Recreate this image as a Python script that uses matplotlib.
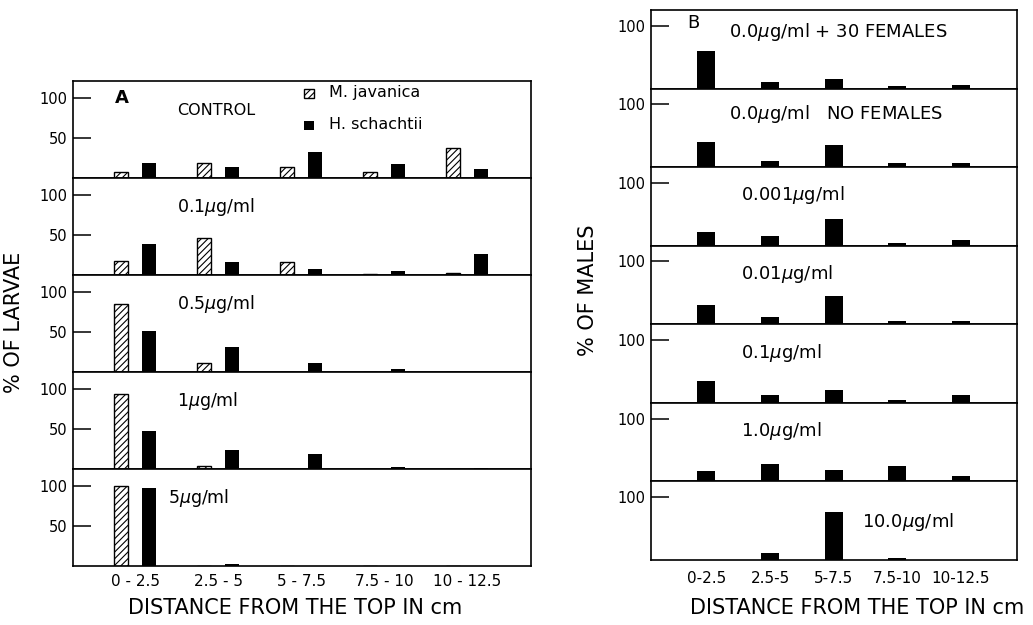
import matplotlib
matplotlib.use('Agg')
import matplotlib.pyplot as plt
import numpy as np

plt.rcParams['font.family'] = ['DejaVu Sans']
plt.rcParams['hatch.linewidth'] = 0.8

# 数据 (% of larvae / males per 2.5 cm section)
groups_a = ['0 - 2.5', '2.5 - 5', '5 - 7.5', '7.5 - 10', '10 - 12.5']
groups_b = ['0-2.5', '2.5-5', '5-7.5', '7.5-10', '10-12.5']

labels_a = ['CONTROL', r'0.1$\mu$g/ml', r'0.5$\mu$g/ml', r'1$\mu$g/ml', r'5$\mu$g/ml']
javanica = [[7, 19, 14, 7, 38],
            [17, 46, 16, 1, 3],
            [85, 11, 0, 0, 0],
            [94, 4, 0, 0, 0],
            [100, 0, 0, 0, 0]]
schachtii = [[19, 14, 33, 17, 11],
             [39, 16, 8, 5, 26],
             [51, 31, 11, 4, 0],
             [48, 24, 19, 3, 1],
             [98, 3, 0, 0, 0]]

labels_b = [r'0.0$\mu$g/ml + 30 FEMALES', r'0.0$\mu$g/ml   NO FEMALES', r'0.001$\mu$g/ml',
            r'0.01$\mu$g/ml', r'0.1$\mu$g/ml', r'1.0$\mu$g/ml', r'10.0$\mu$g/ml']
males = [[60, 11, 15, 4, 5],
         [40, 9, 36, 6, 7],
         [22, 16, 42, 5, 9],
         [31, 12, 45, 6, 6],
         [35, 12, 21, 5, 13],
         [16, 27, 18, 24, 9],
         [0, 11, 77, 3, 0]]

W, H = 1033, 625
fig = plt.figure(figsize=(W / 100, H / 100), dpi=100)


def px_axes(x0, y0, x1, y1):
    # 像素坐标 -> figure 坐标
    return fig.add_axes([x0 / W, 1 - y1 / H, (x1 - x0) / W, (y1 - y0) / H])


def style(ax, ylim, yticks):
    ax.set_ylim(0, ylim)
    ax.set_yticks(yticks)
    ax.set_yticklabels([str(t) for t in yticks], fontsize=10.5)
    ax.tick_params(axis='y', direction='in', length=13, width=1.1, pad=4)
    ax.tick_params(axis='x', length=0)
    for s in ax.spines.values():
        s.set_linewidth(1.2)


# Panel A
xa = np.arange(len(groups_a))
rows_a = [81, 178, 275, 372, 469, 566]
for i in range(5):
    ax = px_axes(73, rows_a[i], 531, rows_a[i + 1])
    ax.bar(xa - 0.17, javanica[i], width=0.17, color='white', edgecolor='black',
           hatch='/////', linewidth=1.0)
    ax.bar(xa + 0.17, schachtii[i], width=0.17, color='black')
    ax.set_xlim(-0.75, 4.77)
    style(ax, 122, [50, 100])
    if i < 4:
        ax.set_xticks([])
    else:
        ax.set_xticks(xa)
        ax.set_xticklabels(groups_a, fontsize=11)
        ax.tick_params(axis='x', pad=6)
    if i == 0:
        ax.text(-0.25, 101, 'A', fontsize=13, fontweight='bold', va='center')
        ax.text(0.5, 85, 'CONTROL', fontsize=11.5, va='center')
        ax.bar([2.1], [11], bottom=[101], width=0.12, color='white', edgecolor='black',
               hatch='/////', linewidth=1.0)
        ax.bar([2.1], [11], bottom=[61], width=0.12, color='black')
        ax.text(2.33, 107, 'M. javanica', fontsize=11.5, va='center')
        ax.text(2.33, 67, 'H. schachtii', fontsize=11.5, va='center')
    else:
        ax.text(0.5 if i < 4 else 0.39, 85, labels_a[i], fontsize=12.5, va='center')

fig.text(295 / W, 1 - 608 / H, 'DISTANCE FROM THE TOP IN cm', fontsize=15,
         ha='center', va='center')
fig.text(14 / W, 1 - 322 / H, '% OF LARVAE', rotation=90, fontsize=15,
         ha='center', va='center')

# Panel B
xb = np.arange(len(groups_b))
rows_b = np.linspace(10, 560, 8)
for i in range(7):
    ax = px_axes(651, rows_b[i], 1017, rows_b[i + 1])
    ax.bar(xb, males[i], width=0.28, color='black')
    ax.set_xlim(-0.87, 4.88)
    style(ax, 125, [100])
    if i < 6:
        ax.set_xticks([])
    else:
        ax.set_xticks(xb)
        ax.set_xticklabels(groups_b, fontsize=11)
        ax.tick_params(axis='x', pad=8)
    if i == 0:
        ax.text(-0.3, 105, 'B', fontsize=13, va='center')
        ax.text(0.35, 90, labels_b[i], fontsize=13, va='center')
    elif i == 1:
        ax.text(0.35, 85, labels_b[i], fontsize=13, va='center')
    elif i < 6:
        ax.text(0.55, 80, labels_b[i], fontsize=13, va='center')
    else:
        ax.text(2.45, 60, labels_b[i], fontsize=13, va='center')

fig.text(857 / W, 1 - 608 / H, 'DISTANCE FROM THE TOP IN cm', fontsize=15,
         ha='center', va='center')
fig.text(588 / W, 1 - 290 / H, '% OF MALES', rotation=90, fontsize=15,
         ha='center', va='center')

fig.savefig('out.png', dpi=100)
